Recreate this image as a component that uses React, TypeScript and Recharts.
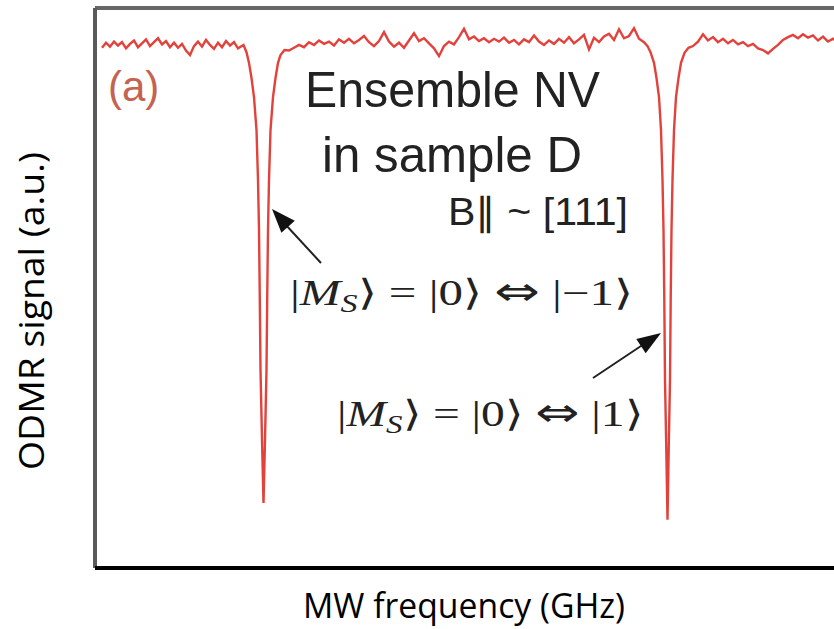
import { LineChart, Line, XAxis, YAxis, ReferenceLine } from 'recharts';

// sweep sample positions (MHz)
const sweep = (start: number, step: number, n: number) =>
  Array.from({ length: n }, (_, i) => +(start + i * step).toFixed(2));

// baseline left of first dip
const leftSig = [
  92.9, 93.8, 93.1, 94.0, 93.3, 93.9, 92.8, 93.6, 94.2, 93.0, 93.7, 94.4,
  93.2, 93.9, 94.6, 93.5, 94.1, 93.0, 93.8, 92.9, 93.6, 92.4, 91.6, 93.2,
  94.0, 93.1, 94.3, 93.4, 92.7, 93.8, 93.0, 94.1, 93.3, 93.9, 92.8,
];
const leftFreq = sweep(2801.4, 0.8, leftSig.length);

// |0> <-> |-1> resonance
const dip1Freq = [
  2829.7, 2830.3, 2830.8, 2831.3, 2831.8, 2832.3, 2832.6, 2832.8, 2832.96, 2833.1, 2833.4, 2833.7,
  2834.0, 2834.3, 2834.44, 2834.6, 2834.8, 2835.1, 2835.6, 2836.1, 2836.6, 2837.1, 2837.9,
];
const dip1Sig = [
  93.4, 92.1, 90.2, 87.5, 84.1, 78.2, 69.3, 60.4, 47.9, 35.4, 22.9, 11.6,
  22.9, 35.4, 47.9, 60.4, 69.3, 78.2, 84.1, 87.5, 90.2, 91.6, 92.5,
];

// baseline between the dips
const midSig = [
  92.4, 92.9, 93.4, 93.0, 93.9, 93.4, 94.2, 93.6, 94.0, 93.3, 94.4, 93.8,
  94.5, 93.7, 94.3, 95.0, 93.9, 93.2, 94.1, 95.7, 94.0, 93.1, 93.8, 92.9,
  94.2, 95.5, 94.1, 94.6, 93.7, 92.8, 91.4, 93.2, 94.0, 93.5, 94.8, 96.3,
  94.4, 94.9, 94.1, 94.6, 93.9, 94.5, 94.0, 94.7, 93.8, 94.3, 93.5, 94.4,
  93.9, 95.1, 94.0, 93.4, 94.2, 93.6, 94.5, 93.8, 94.8, 93.7, 94.4, 95.2,
  92.6, 94.7, 93.9, 94.9, 95.4, 94.3, 96.2, 94.6, 95.0, 96.4, 94.5, 93.9,
];
const midFreq = sweep(2838.8, 1.0, midSig.length);

// |0> <-> |1> resonance
const dip2Freq = [
  2910.5, 2911.1, 2911.8, 2912.3, 2912.8, 2913.2, 2913.5, 2913.7, 2913.86, 2914.0, 2914.26, 2914.5,
  2914.74, 2915.0, 2915.14, 2915.3, 2915.5, 2915.8, 2916.2, 2916.7, 2917.2, 2917.9, 2918.7,
];
const dip2Sig = [
  93.2, 92.1, 90.2, 87.5, 84.1, 78.2, 69.3, 60.4, 47.9, 33.6, 21.1, 8.6,
  21.1, 33.6, 47.9, 60.4, 69.3, 78.2, 84.1, 87.5, 90.2, 92.0, 92.9,
];

// baseline right of second dip
const rightSig = [
  93.2, 94.0, 95.3, 94.2, 94.8, 93.9, 94.5, 93.7, 94.3, 93.5, 93.9, 93.2,
  93.6, 92.8, 92.5, 91.9, 92.7, 93.4, 94.3, 94.8, 95.2, 94.6, 95.3, 94.7,
  95.1, 94.2, 94.9, 94.0, 94.5, 93.8, 94.2,
];
const rightFreq = sweep(2919.6, 1.0, rightSig.length);

const freqMHz = [...leftFreq, ...dip1Freq, ...midFreq, ...dip2Freq, ...rightFreq];
const signal = [...leftSig, ...dip1Sig, ...midSig, ...dip2Sig, ...rightSig];
const data = freqMHz.map((m, i) => ({ f: m / 1000, s: signal[i] }));

const SANS = "'Liberation Sans', Arial, sans-serif";
const SERIF = "'Liberation Serif', 'Times New Roman', serif";
const LABEL = "'Open Sans', 'Noto Sans', sans-serif";

function Ket({ x, y, width, state }: { x: number; y: number; width: number; state: string }) {
  return (
    <text x={x} y={y} fontFamily={SERIF} fontSize={36} fill="#222" textLength={width} lengthAdjust="spacingAndGlyphs">
      <tspan>|</tspan>
      <tspan fontStyle="italic">M</tspan>
      <tspan fontStyle="italic" fontSize={25} dy={7}>S</tspan>
      <tspan dy={-7}>{'\u27E9 = |0\u27E9 '}</tspan>
      <tspan fontFamily="'DejaVu Sans', sans-serif" fontSize={40}>{'\u21D4'}</tspan>
      <tspan>{' |' + state + '\u27E9'}</tspan>
    </text>
  );
}

export default function App() {
  return (
    <div style={{ position: 'absolute', left: 0, top: 0, width: 834, height: 629, overflow: 'hidden', background: '#fff' }}>
      <LineChart width={895} height={629} data={data} margin={{ top: 8, right: 0, bottom: 61, left: 95 }}>
        <XAxis dataKey="f" type="number" domain={[2.8, 2.96]} tick={false} tickLine={false} axisLine={false} height={0} />
        <YAxis type="number" domain={[0, 100]} tick={false} tickLine={false} axisLine={false} width={0} />
        <ReferenceLine y={100} stroke="#666" strokeWidth={4} />
        <ReferenceLine x={2.8} stroke="#5a5a5a" strokeWidth={4} />
        <ReferenceLine y={0} stroke="#000" strokeWidth={4} />
        <Line
          type="linear"
          dataKey="s"
          stroke="#e2423b"
          strokeWidth={2.4}
          dot={false}
          isAnimationActive={false}
        />
      </LineChart>
      <svg width={834} height={629} style={{ position: 'absolute', left: 0, top: 0, pointerEvents: 'none' }}>
        <text x={108} y={101} fontFamily={SANS} fontSize={42} fill="#c4634f">(a)</text>
        <text x={305} y={107} fontFamily={SANS} fontSize={50} fill="#222" textLength={295} lengthAdjust="spacingAndGlyphs">
          Ensemble NV
        </text>
        <text x={322} y={172} fontFamily={SANS} fontSize={50} fill="#222" textLength={260} lengthAdjust="spacingAndGlyphs">
          in sample D
        </text>
        <text x={448} y={225} fontFamily={SANS} fontSize={38} fill="#222" textLength={180} lengthAdjust="spacingAndGlyphs">
          {'B\u2225 ~ [111]'}
        </text>
        <Ket x={290} y={305} width={343} state={'\u22121'} />
        <Ket x={337} y={426} width={306} state="1" />

        <line x1={321} y1={263} x2={285} y2={224} stroke="#222" strokeWidth={2} />
        <polygon points="272,209 294.8,220.8 281.4,232.8" fill="#111" />
        <line x1={593} y1={378} x2={644} y2={344} stroke="#222" strokeWidth={2} />
        <polygon points="661,333 645.7,353.3 636.3,339.1" fill="#111" />

        <text x={464} y={618} fontFamily={LABEL} fontSize={34} fill="#000" textAnchor="middle" textLength={322} lengthAdjust="spacingAndGlyphs">
          MW frequency (GHz)
        </text>
        <text
          transform="translate(44, 311) rotate(-90)"
          x={0}
          y={0}
          fontFamily={LABEL}
          fontSize={34}
          fill="#000"
          textAnchor="middle"
          textLength={318}
          lengthAdjust="spacingAndGlyphs"
        >
          ODMR signal (a.u.)
        </text>
      </svg>
    </div>
  );
}
